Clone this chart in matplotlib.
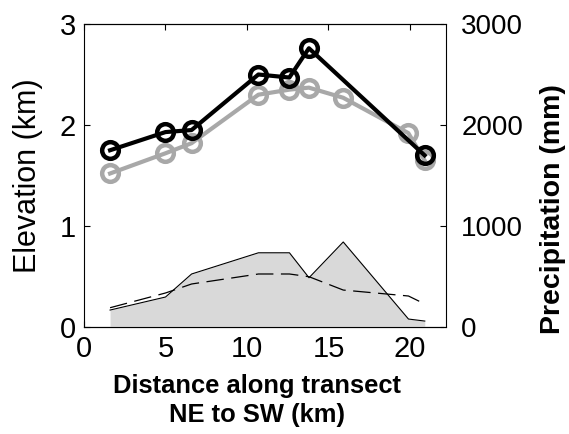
import matplotlib
matplotlib.use('Agg')
import matplotlib.pyplot as plt

plt.rcParams['font.family'] = ['Liberation Sans', 'DejaVu Sans']

# elevation (km) along the transect
dist_peak = [1.6, 5.0, 6.6, 10.7, 12.6, 13.8, 20.9]
elev_peak = [1.75, 1.93, 1.95, 2.50, 2.47, 2.76, 1.70]
dist_all = [1.6, 5.0, 6.6, 10.7, 12.6, 13.8, 15.9, 19.9, 20.9]
elev_mean = [1.52, 1.72, 1.82, 2.30, 2.35, 2.37, 2.27, 1.92, 1.65]
# precipitation (mm)
precip_obs = [168, 297, 525, 735, 735, 488, 842, 79, 59]
precip_mod = [191, 337, 426, 525, 525, 498, 366, 307, 228]

fig = plt.figure(figsize=(5.69, 4.34), dpi=100)
ax = fig.add_axes([0.1476, 0.2465, 0.631, 0.6982])
ax2 = fig.add_axes([0.1476, 0.2465, 0.6362, 0.6982], facecolor='none')

# precipitation on the right axis
ax2.fill_between(dist_all, precip_obs, 0, color='#d9d9d9', lw=0)
ax2.plot(dist_all, precip_obs, color='k', lw=0.8)
ax2.plot(dist_all, precip_mod, color='k', lw=0.9, dashes=(14, 6))
ax2.set_xlim(0, 22.2)
ax2.set_ylim(0, 3000)
ax2.set_yticks([0, 1000, 2000, 3000])
ax2.yaxis.tick_right()
ax2.yaxis.set_label_position('right')
ax2.set_xticks([])
ax2.spines['left'].set_visible(False)
ax2.tick_params(axis='y', direction='in', length=4, width=0.8, pad=11, labelsize=20)
ax2.set_ylabel('Precipitation (mm)', fontsize=20.5, fontweight='bold',
               labelpad=12, y=0.39)

# elevation on the left axis
ax.plot(dist_all, elev_mean, color='#a8a8a8', lw=3, marker='o', ms=12,
        mfc='none', mew=3.2, zorder=2)
ax.plot(dist_peak, elev_peak, color='k', lw=3, marker='o', ms=12,
        mfc='none', mew=3.2, zorder=3)
ax.set_xlim(0, 22.03)
ax.set_ylim(0, 3)
ax.set_xticks([0, 5, 10, 15, 20])
ax.set_yticks([0, 1, 2, 3])
ax.spines['right'].set_visible(False)
ax.tick_params(direction='in', length=4, width=0.8, labelsize=21, pad=6,
               top=True, right=False)
ax.set_ylabel('Elevation (km)', fontsize=22, labelpad=12)
ax.set_xlabel('Distance along transect\nNE to SW (km)', fontsize=18.4,
              fontweight='bold', labelpad=8, x=0.483, linespacing=1.25)

fig.savefig('out.png', dpi=100)
